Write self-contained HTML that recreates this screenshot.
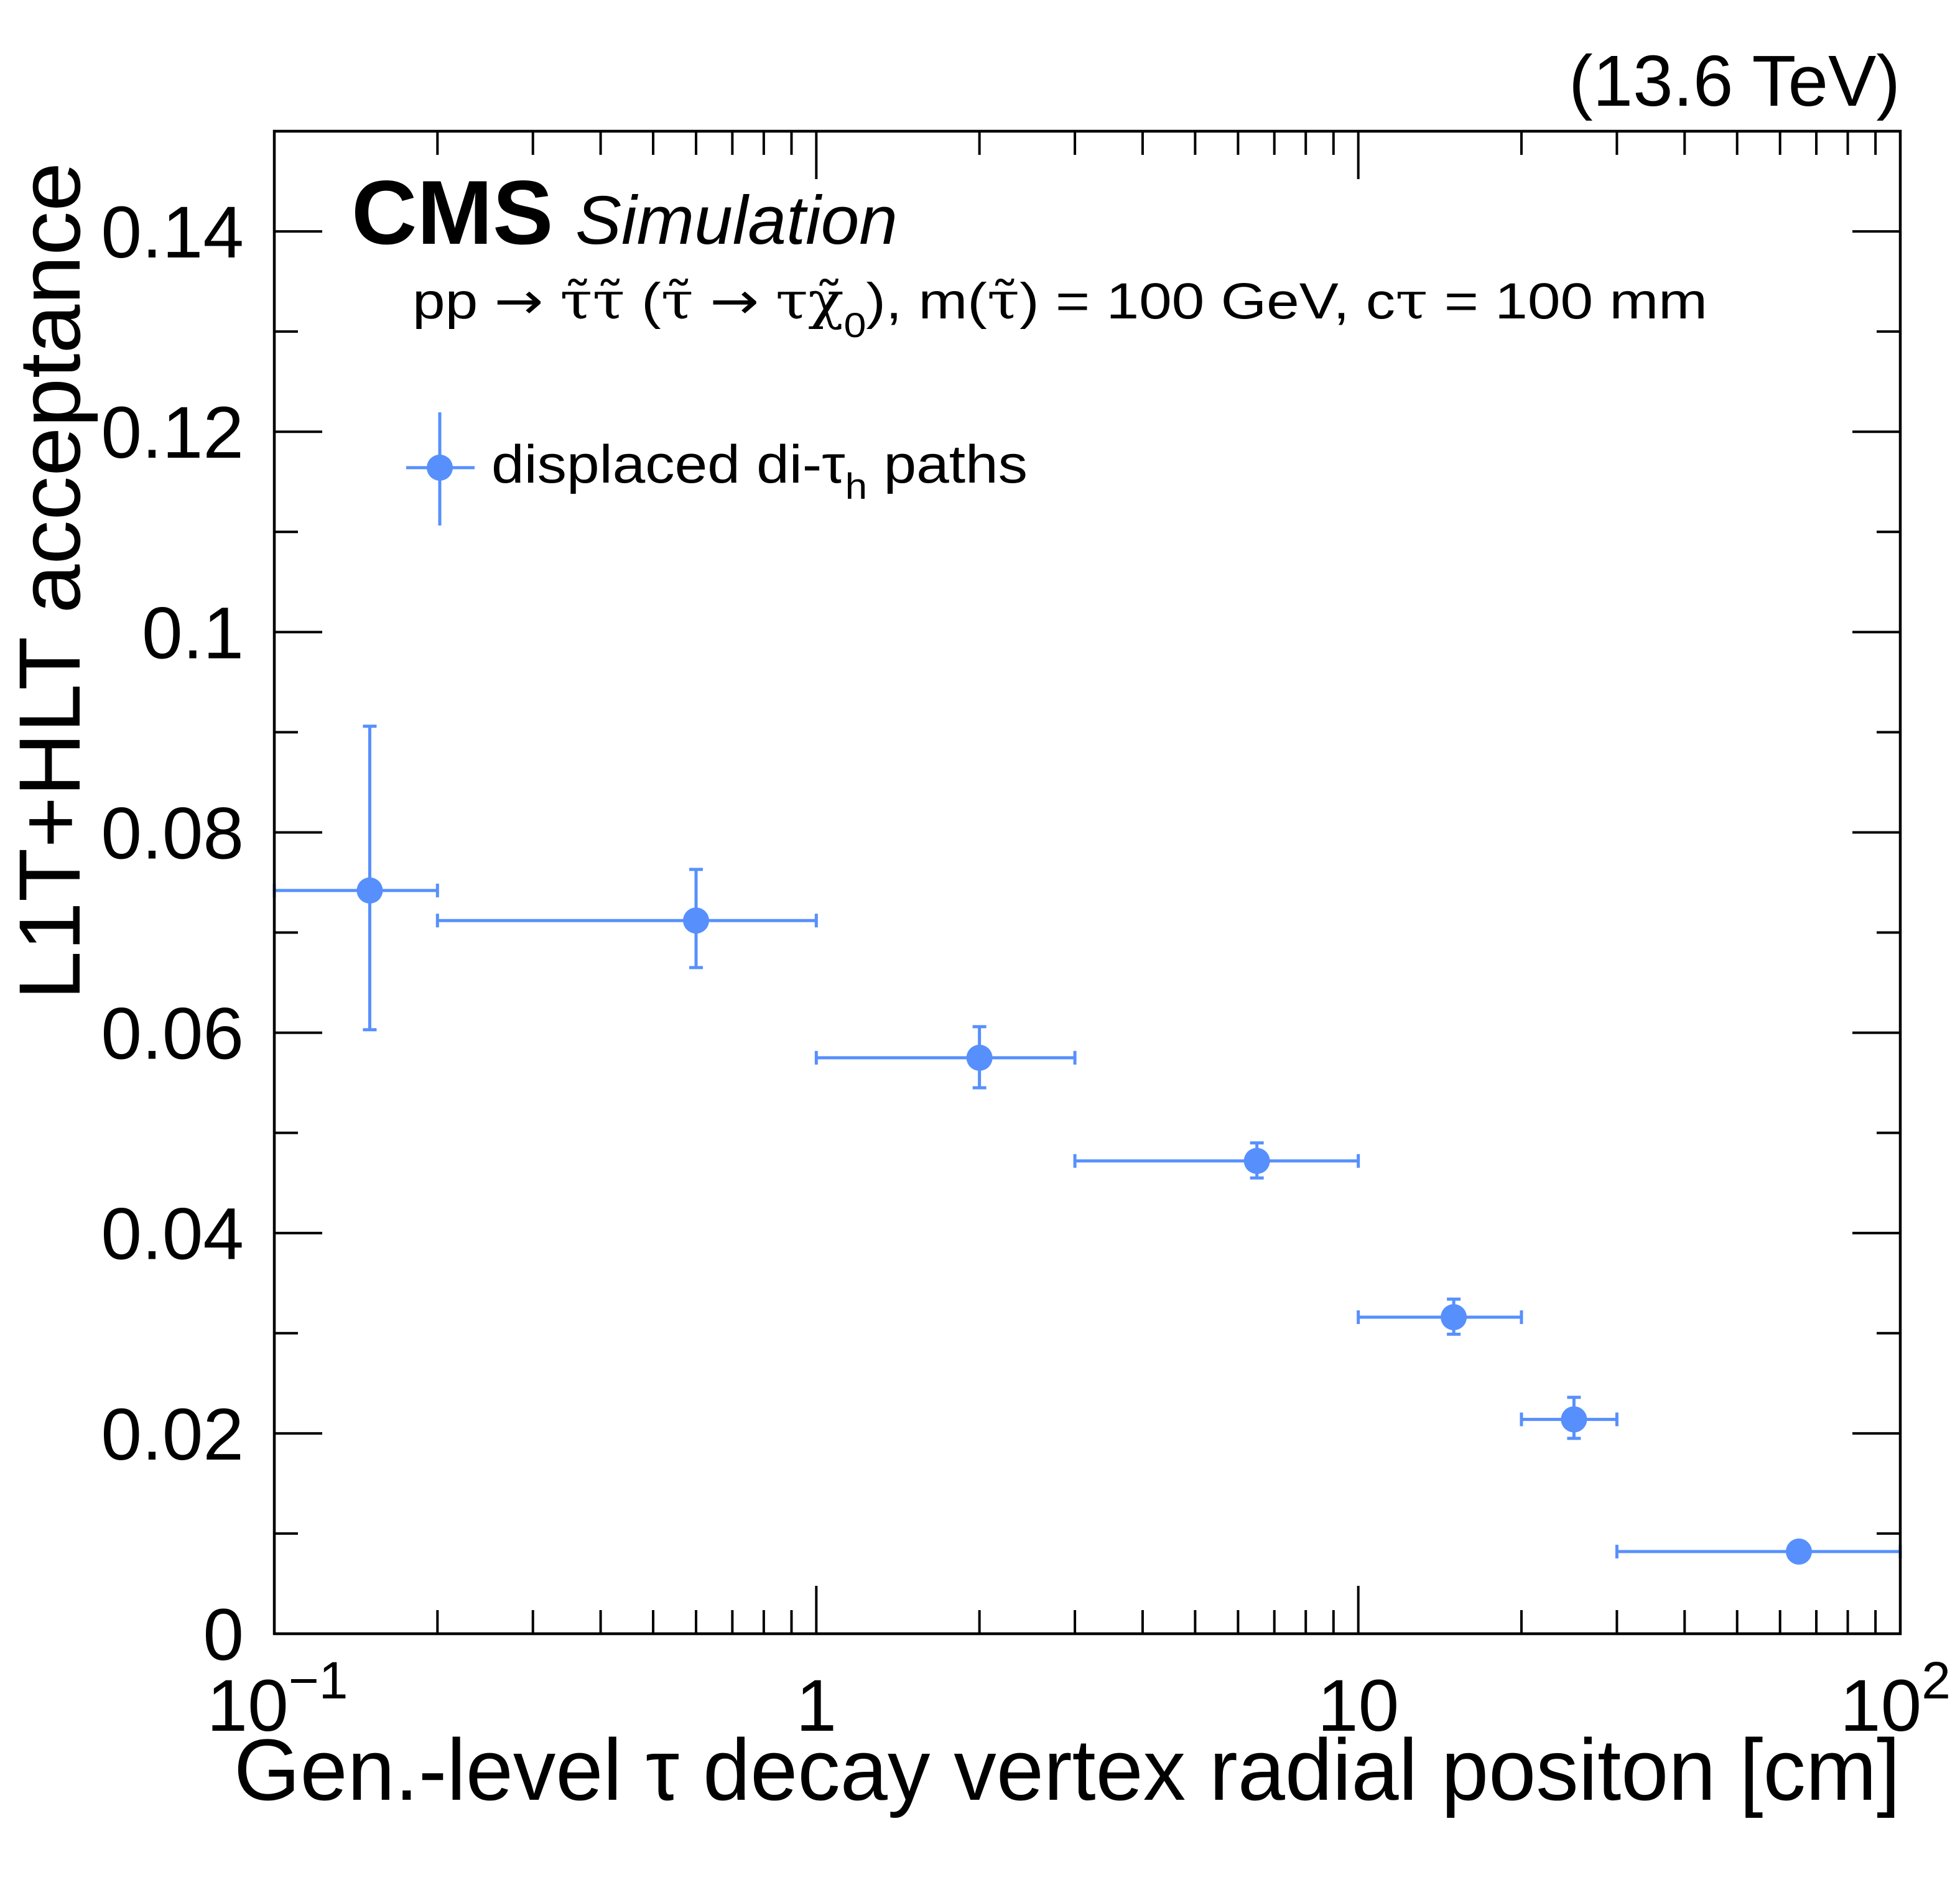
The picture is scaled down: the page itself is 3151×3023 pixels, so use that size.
<!DOCTYPE html>
<html><head><meta charset="utf-8"><style>
html,body{margin:0;padding:0;background:#fff}
svg{display:block}
text{font-family:"Liberation Sans",sans-serif;fill:#000}
.g{font-family:"DejaVu Serif",serif}
.a{font-family:"DejaVu Sans",sans-serif}
</style></head><body>
<svg id="chart" width="3151" height="3023" viewBox="0 0 3151 3023" xmlns="http://www.w3.org/2000/svg">
<g id="ticks"></g>
<g id="marks"></g>
<rect x="441" y="211" width="2614" height="2416" fill="none" stroke="#000" stroke-width="4.5"/>
<g id="labels"></g>
<text x="3055" y="170" font-size="116" text-anchor="end">(13.6 TeV)</text>
<text x="565" y="392" font-size="146" font-weight="bold">CMS</text>
<text x="925" y="392" font-size="110" font-style="italic" textLength="518" lengthAdjust="spacingAndGlyphs">Simulation</text>
<text x="663" y="512" font-size="82" textLength="2082" lengthAdjust="spacingAndGlyphs">pp <tspan class="a">→</tspan> <tspan class="g">τ̃τ̃</tspan> (<tspan class="g">τ̃</tspan> <tspan class="a">→</tspan> <tspan class="g">τχ̃</tspan><tspan font-size="56" dy="30">0</tspan><tspan dy="-30">), m(</tspan><tspan class="g">τ̃</tspan>) = 100 GeV, c<tspan class="g">τ</tspan> = 100 mm</text>
<g>
<line x1="653" y1="752" x2="763" y2="752" stroke="#5790fc" stroke-width="5"/>
<line x1="707" y1="663" x2="707" y2="845" stroke="#5790fc" stroke-width="5"/>
<circle cx="707" cy="752" r="21" fill="#5790fc"/>
<text x="790" y="776" font-size="86" textLength="862" lengthAdjust="spacingAndGlyphs">displaced di-τ<tspan font-size="58" dy="26">h</tspan><tspan dy="-26"> paths</tspan></text>
</g>
<text x="376" y="2894" font-size="140" textLength="2679" lengthAdjust="spacingAndGlyphs">Gen.-level τ decay vertex radial positon [cm]</text>
<text transform="translate(128,1608) rotate(-90)" font-size="140" textLength="1347" lengthAdjust="spacingAndGlyphs">L1T+HLT acceptance</text>
</svg>
<script>
const binLo=[0.1,0.2,1,3,10,20,30];
const binHi=[0.2,1,3,10,20,30,100];
const xCenter=[0.15,0.6,2.0,6.5,15,25,65];
const yVal=[0.0742,0.0712,0.0575,0.0472,0.0316,0.0214,0.0082];
const yErrLo=[0.0603,0.0665,0.0545,0.0455,0.0299,0.0195,0.0080];
const yErrHi=[0.0906,0.0763,0.0606,0.0490,0.0334,0.0236,0.0084];
const yTickVals=[0,0.02,0.04,0.06,0.08,0.1,0.12,0.14];
const yTickLabels=["0","0.02","0.04","0.06","0.08","0.1","0.12","0.14"];
const X0=441,X1=3055,Y0=2627,Y1=211;
function xs(v){return X0+(Math.log10(v)+1)/3*(X1-X0);}
function ys(v){return Y0-v/0.15*(Y0-Y1);}
const NS="http://www.w3.org/2000/svg";
function mk(tag,at,parent){const e=document.createElementNS(NS,tag);for(const k in at)e.setAttribute(k,at[k]);parent.appendChild(e);return e;}
const tk=document.getElementById('ticks'),lb=document.getElementById('labels'),mg=document.getElementById('marks');
for(let i=0;i<=15;i++){const v=i*0.01,y=ys(v),L=(i%2==0)?77:38;
const a=mk('line',{x1:X0,y1:y,x2:X0+L,y2:y,stroke:'#000','stroke-width':4},tk);


const b=mk('line',{x1:X1,y1:y,x2:X1-L,y2:y,stroke:'#000','stroke-width':4},tk);

}
yTickVals.forEach((v,i)=>{const t=mk('text',{x:392,y:ys(v)+42,'font-size':118,'text-anchor':'end'},lb);t.textContent=yTickLabels[i];

});
for(let d=-1;d<=1;d++)for(let m=1;m<=9;m++){const v=m*Math.pow(10,d);const x=xs(v),L=(m==1)?77:38;
const a=mk('line',{x1:x,y1:Y0,x2:x,y2:Y0-L,stroke:'#000','stroke-width':4},tk);


const b=mk('line',{x1:x,y1:Y1,x2:x,y2:Y1+L,stroke:'#000','stroke-width':4},tk);

}
const xl=[[0.1,'10','−1'],[1,'1',''],[10,'10',''],[100,'10','2']];
xl.forEach(d=>{const t=mk('text',{x:xs(d[0]),y:2783,'font-size':118,'text-anchor':'middle'},lb);


if(d[2]){t.textContent=d[1];const s=mk('tspan',{'font-size':84,dy:-52},t);s.textContent=d[2];t.setAttribute('x',xs(d[0])+(d[2]=='2'?-8:5));}else t.textContent=d[1];});
const C='#5790fc';
xCenter.forEach((xc,i)=>{const g=mk('g',{},mg);


const cx=xs(xc),cy=ys(yVal[i]),xl=xs(binLo[i]),xh=Math.min(xs(binHi[i]),X1),yl=ys(yErrLo[i]),yh=ys(yErrHi[i]);
mk('line',{x1:xl,y1:cy,x2:xh,y2:cy,stroke:C,'stroke-width':5},g);
mk('line',{x1:xl,y1:cy-11,x2:xl,y2:cy+11,stroke:C,'stroke-width':5},g);
mk('line',{x1:xh,y1:cy-11,x2:xh,y2:cy+11,stroke:C,'stroke-width':5},g);
if(yh<cy-21){mk('line',{x1:cx,y1:yl,x2:cx,y2:yh,stroke:C,'stroke-width':5},g);
mk('line',{x1:cx-11,y1:yl,x2:cx+11,y2:yl,stroke:C,'stroke-width':5},g);
mk('line',{x1:cx-11,y1:yh,x2:cx+11,y2:yh,stroke:C,'stroke-width':5},g);}
mk('circle',{cx:cx,cy:cy,r:21,fill:C},g);});
</script>
</body></html>
